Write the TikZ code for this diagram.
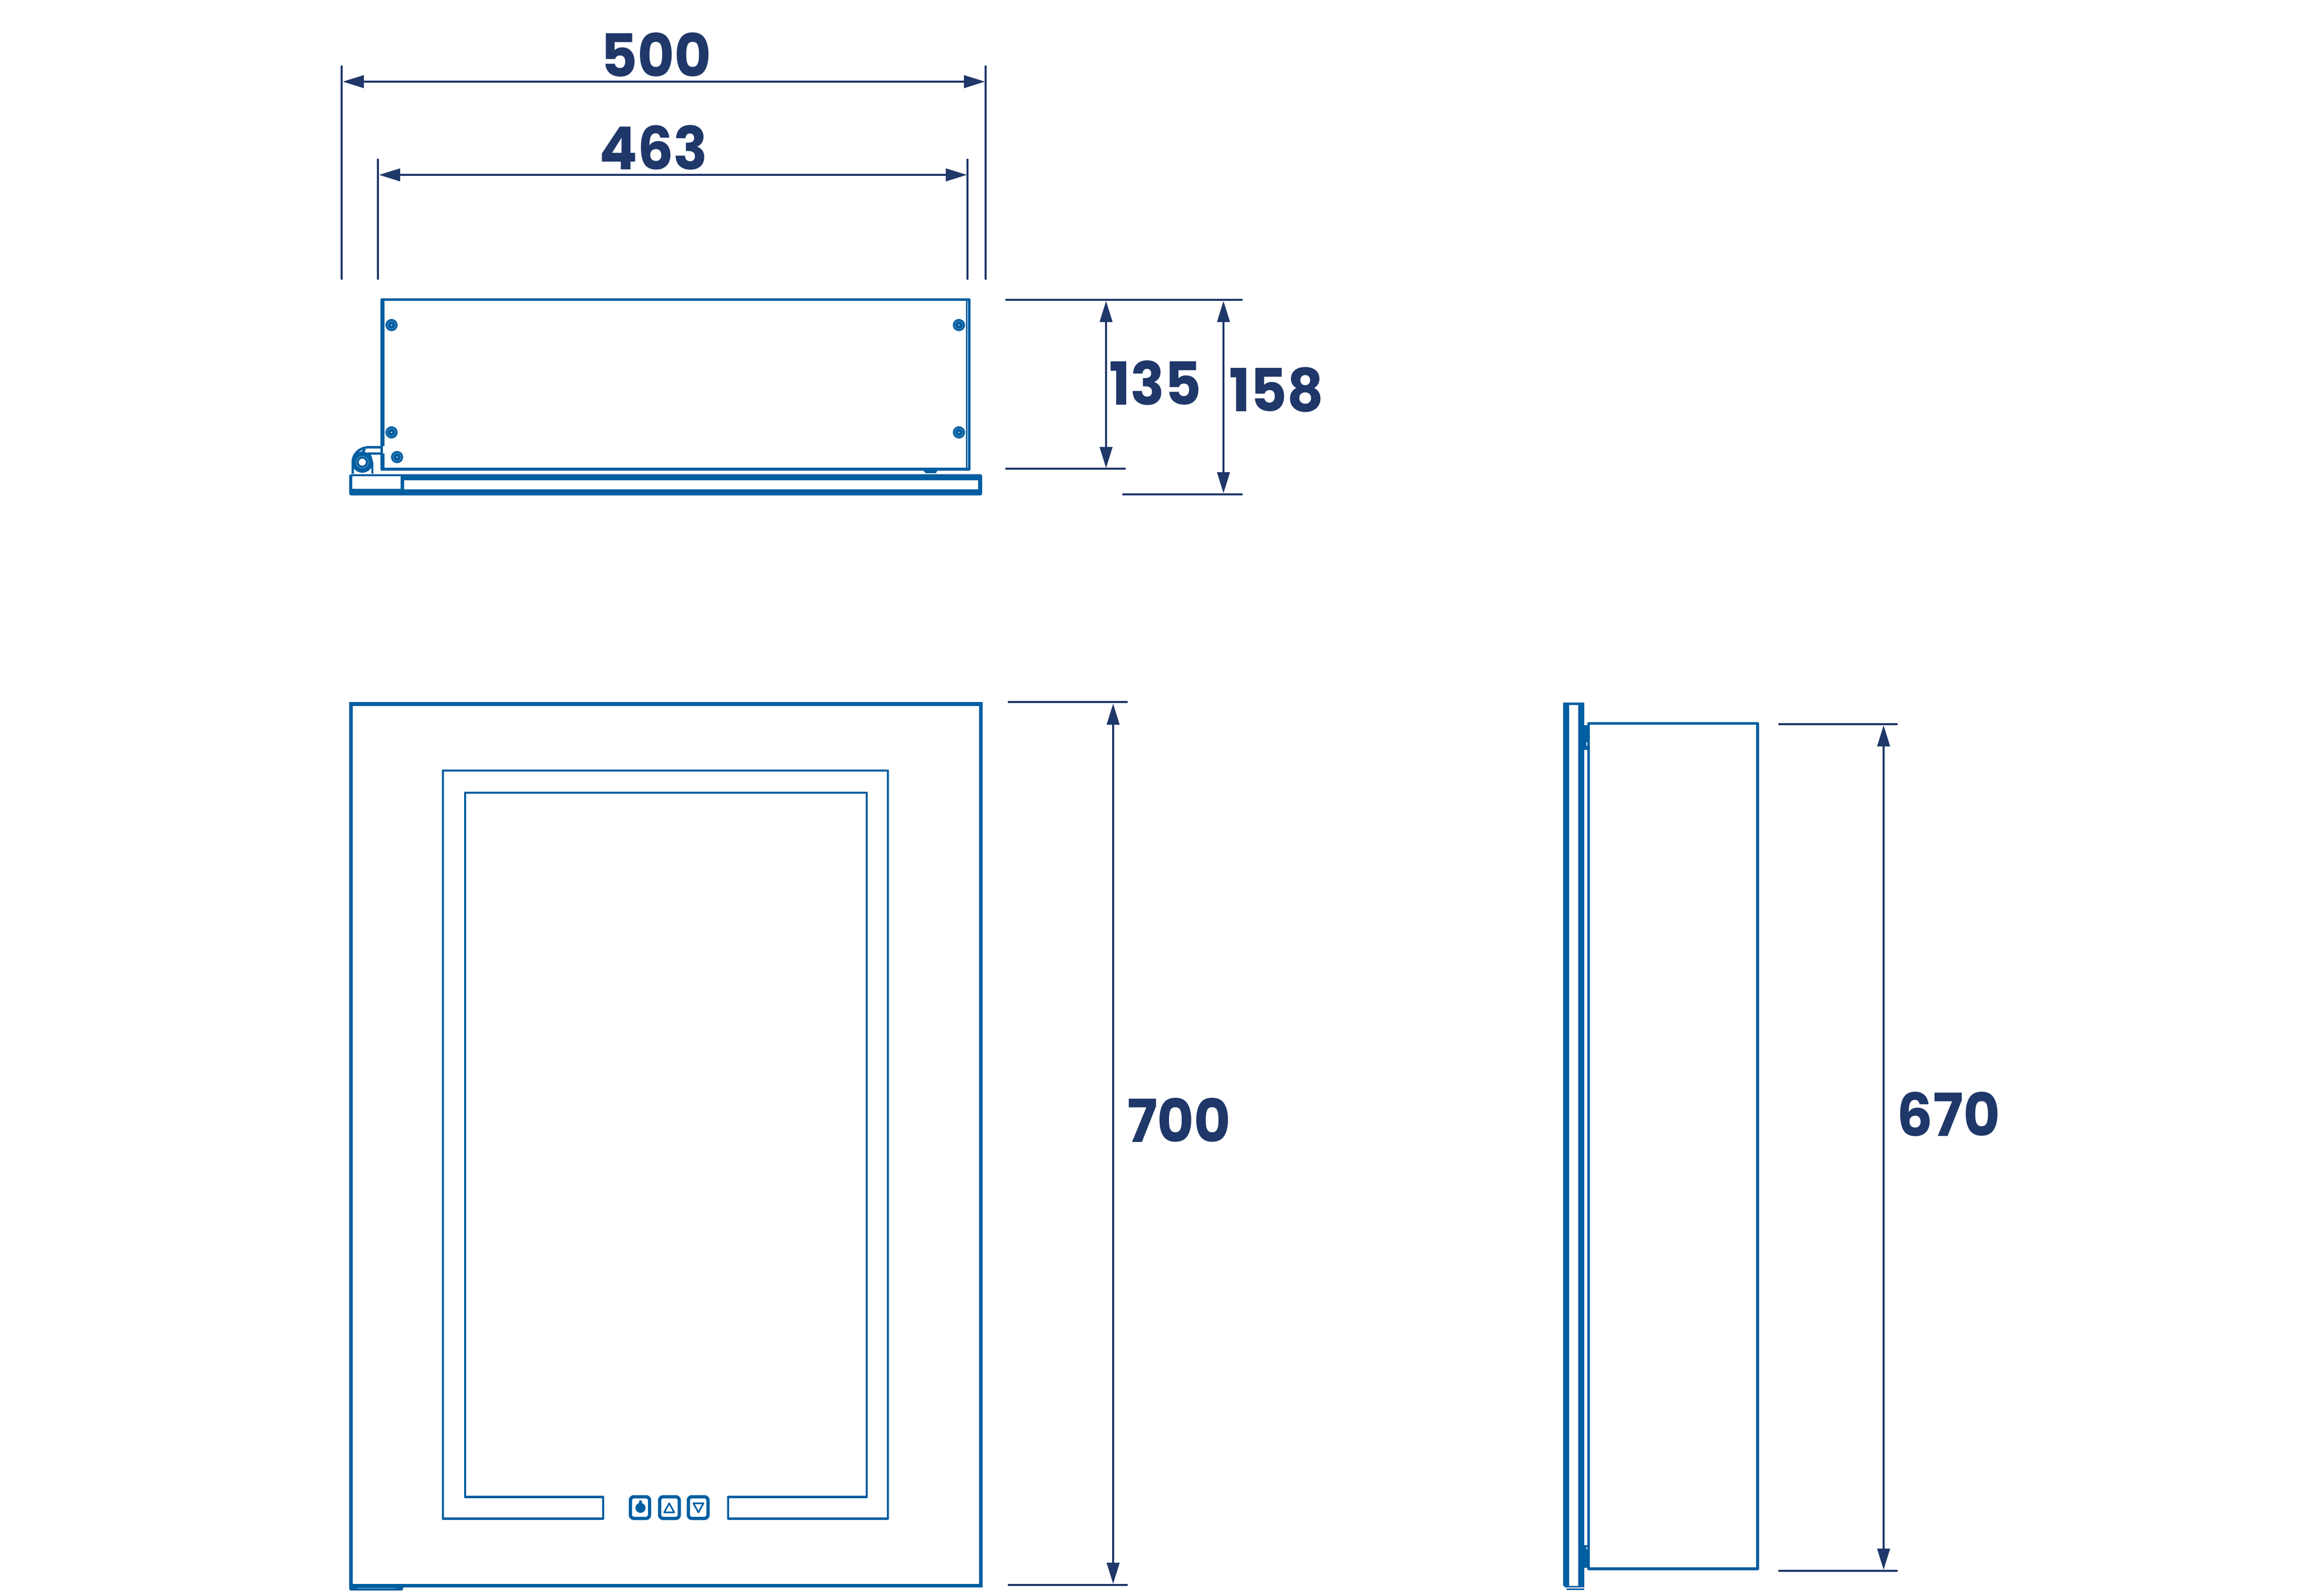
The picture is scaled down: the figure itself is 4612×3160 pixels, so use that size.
\documentclass[tikz,border=0pt]{standalone}
\usepackage{fontspec}
\setmainfont{Poppins}[FakeStretch=0.95]
\usepackage{xcolor}
\usetikzlibrary{arrows.meta}

\begin{document}
\begin{tikzpicture}[x=0.01cm,y=-0.01cm]
    \definecolor{myblue}{RGB}{0,94,161}
    \definecolor{mynavy}{RGB}{31,55,105}
    \useasboundingbox (0,0) rectangle (4612,3160);

    \tikzstyle{part}=[draw=myblue,line width=1.6pt,line join=round]  % outline of the cabinet
    \tikzstyle{thin part}=[draw=myblue,line width=1.4pt,line join=round]
    \tikzstyle{wall}=[draw=myblue,line width=3.41pt,line cap=butt]
    \tikzstyle{screw}=[circle,fill=myblue,inner sep=0pt,minimum size=6.9pt]
    \tikzstyle{hole}=[circle,fill=white,inner sep=0pt,minimum size=0.8pt]
    \tikzstyle{key}=[draw=myblue,line width=1.85pt,rounded corners=2pt]
    \tikzstyle{ext}=[draw=mynavy,line width=1.35pt,line cap=round]  % extension line
    \tikzstyle{dim}=[draw=mynavy,line width=1.35pt,{Stealth[length=12pt,width=7pt,inset=0pt]}-{Stealth[length=12pt,width=7pt,inset=0pt]}]
    \tikzstyle{size}=[text=mynavy,font=\fontsize{33.5pt}{33.5pt}\selectfont\bfseries,inner sep=0pt]

    % top view
    \draw[part] (757.5,594.5) rectangle (1923.5,931);
    \draw[draw=myblue,line width=2.28pt] (759,594) -- (759,885);
    \draw[draw=myblue,line width=2.28pt] (759,900) -- (759,931);
    \draw[draw=myblue,line width=0.85pt] (1918.5,594) -- (1918.5,931);
    \fill[myblue] (1832,933) -- (1861,933) -- (1857,939) -- (1837,939) -- cycle;
    \foreach \x/\y in {777/645,777/858,788/907,1903/645,1903/858}{
        \node[screw] at (\x,\y) {};
        \draw[draw=myblue!55!white,line width=0.2pt] (\x,\y) circle (8);
        \node[hole] at (\x,\y) {};
    }
    % hinge
    \draw[thin part] (700,940) -- (700,917) .. controls (700,900) and (715,887.5) .. (732,887.5) -- (758,887.5);
    \draw[thin part] (739,940) -- (739,917);
    \draw[thin part] (724,891) -- (714,906);
    \draw[thin part] (758,900) -- (731,900) -- (736,908);
    \fill[myblue] (719,917) circle (21);
    \draw[draw=myblue!55!white,line width=0.25pt] (719,917) circle (12);
    \fill[white] (719,917) circle (7);
    % glass bar
    \fill[myblue,rounded corners=1pt] (693,941) rectangle (1949,983);
    \fill[white] (699,945) rectangle (795,970);
    \fill[white] (802,953) rectangle (1941,971);

    % front view
    \draw[draw=myblue,line width=2.05pt] (696.5,1397) rectangle (1946.5,3146.5);
    \draw[thin part] (1197,2970) -- (923,2970) -- (923,1573) -- (1720,1573) -- (1720,2970) -- (1445,2970) -- (1445,3013) -- (1762,3013) -- (1762,1529) -- (879,1529) -- (879,3013) -- (1197,3013) -- cycle;
    \draw[key] (1251,2970) rectangle (1289,3013);
    \draw[key] (1309,2970) rectangle (1348,3013);
    \draw[key] (1366,2970) rectangle (1405,3013);
    \fill[myblue] (1271,2992) circle (10);
    \draw[draw=myblue,line width=1.71pt,line cap=round] (1271,2980) -- (1271,2990);
    \draw[draw=myblue,line width=0.9pt,line join=round] (1328,2983) -- (1318,3001) -- (1338,3001) -- cycle;
    \draw[draw=myblue,line width=0.9pt,line join=round] (1376,2983) -- (1396,2983) -- (1386,3001) -- cycle;
    \fill[myblue,rounded corners=1pt] (693,3143) rectangle (800,3156);
    \draw[draw=myblue!45!white,line width=0.3pt] (708,3151) -- (785,3151);

    % side view
    \draw[wall] (3107.5,1396) -- (3107.5,3147);
    \draw[wall] (3138,1396) -- (3138,3150);
    \draw[draw=myblue,line width=1.42pt] (3102,1396) -- (3144,1396);
    \draw[draw=myblue,line width=0.85pt] (3105,3148) -- (3144,3148);
    \draw[draw=myblue,line width=0.85pt] (3109,3153.5) -- (3144,3153.5);
    \draw[part] (3152.5,1435.5) rectangle (3488,3113);
    \fill[myblue] (3144,1439) rectangle (3153,1488);
    \fill[myblue] (3144,3066) rectangle (3153,3111);
    \fill[white] (3148,1473) rectangle (3150,1480);
    \fill[white] (3148,3070) rectangle (3150,3074);

    % dimensions
    \coordinate (w1t) at (678,132);
    \coordinate (w1b) at (678,553);
    \coordinate (w1r) at (1956,132);
    \coordinate (w1s) at (1956,553);
    \coordinate (w2t) at (750,317);
    \coordinate (w2b) at (750,553);
    \coordinate (w2r) at (1920,317);
    \coordinate (w2s) at (1920,553);
    \coordinate (a500l) at (680,162);
    \coordinate (a500r) at (1955,162);
    \coordinate (a463l) at (752,347);
    \coordinate (a463r) at (1919,347);
    \draw[ext] (w1t) -- (w1b);
    \draw[ext] (w1r) -- (w1s);
    \draw[ext] (w2t) -- (w2b);
    \draw[ext] (w2r) -- (w2s);
    \draw[dim] (a500l) -- (a500r);
    \draw[dim] (a463l) -- (a463r);
    \node[size] (d500) at (1302,109) {500};
    \node[size] (d463) at (1297,293) {463};

    \coordinate (h1a) at (1997,595);
    \coordinate (h1b) at (2464,595);
    \coordinate (h2a) at (1997,930);
    \coordinate (h2b) at (2232,930);
    \coordinate (h3a) at (2229,981);
    \coordinate (h3b) at (2464,981);
    \coordinate (a135t) at (2195,597);
    \coordinate (a135b) at (2195,929);
    \coordinate (a158t) at (2428,597);
    \coordinate (a158b) at (2428,979);
    \draw[ext] (h1a) -- (h1b);
    \draw[ext] (h2a) -- (h2b);
    \draw[ext] (h3a) -- (h3b);
    \draw[dim] (a135t) -- (a135b);
    \draw[dim] (a158t) -- (a158b);
    \node[size] (d135) at (2293,760) {135};
    \node[size] (d158) at (2533,773) {158};

    \coordinate (v1a) at (2002,1393);
    \coordinate (v1b) at (2236,1393);
    \coordinate (v2a) at (2002,3145);
    \coordinate (v2b) at (2236,3145);
    \coordinate (a700t) at (2209,1396);
    \coordinate (a700b) at (2209,3143);
    \draw[ext] (v1a) -- (v1b);
    \draw[ext] (v2a) -- (v2b);
    \draw[dim] (a700t) -- (a700b);
    \node[size] (d700) at (2340,2223) {700};

    \coordinate (s1a) at (3531,1437);
    \coordinate (s1b) at (3764,1437);
    \coordinate (s2a) at (3531,3117);
    \coordinate (s2b) at (3764,3117);
    \coordinate (a670t) at (3738,1439);
    \coordinate (a670b) at (3738,3115);
    \draw[ext] (s1a) -- (s1b);
    \draw[ext] (s2a) -- (s2b);
    \draw[dim] (a670t) -- (a670b);
    \node[size] (d670) at (3867,2211) {670};
\end{tikzpicture}
\end{document}
